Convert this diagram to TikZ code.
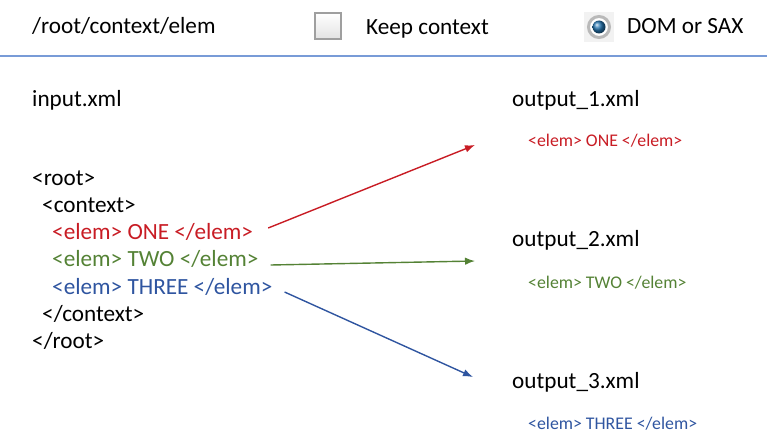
\documentclass[tikz,border=0pt]{standalone}
\usepackage{fontspec}
\setmainfont{Carlito}
\usetikzlibrary{arrows.meta,positioning}
\definecolor{elemred}{RGB}{200,28,36}
\definecolor{elemgreen}{RGB}{84,130,53}
\definecolor{elemblue}{RGB}{47,85,160}
\definecolor{rulecol}{RGB}{120,155,215}

\begin{document}
\begin{tikzpicture}[
    x=1pt, y=-1pt,
    >={Latex[length=10pt,width=7.5pt]},
    txt/.style={anchor=west,inner sep=0pt,font=\fontsize{23.2}{28}\selectfont},
    small/.style={anchor=west,inner sep=0pt,font=\fontsize{17.8}{21}\selectfont},
    link/.style={->,line width=1.4pt}
]
\useasboundingbox (0,0) rectangle (767,433);

% toolbar
\node[txt] (P) at (32,26) {/root/context/elem};
\node[draw=gray!75,line width=1.2pt,top color=white,bottom color=gray!22,minimum size=26pt,inner sep=0pt] (C) at (328,26) {};
\node[txt] (K) at (366,28.5) {Keep context};
\fill[gray!10] (584,12) rectangle (614,42);
\draw[gray!55,line width=3pt,fill=white] (599,27) circle (10.5);
\shade[ball color=elemblue!80!cyan] (599,27) circle (6.5);
\node[txt] (D) at (627,26) {DOM or SAX};
\draw[rulecol,line width=1.3pt] (0,56) -- (767,56);

% input
\node[txt] (I) at (32,100) {input.xml};
\node[txt] (r0) at (32,178) {<root>};
\node[txt] (c0) at (42,205) {<context>};
\node[txt,elemred] (E1) at (52,232) {<elem> ONE </elem>};
\node[txt,elemgreen] (E2) at (52,259) {<elem> TWO </elem>};
\node[txt,elemblue] (E3) at (52,287) {<elem> THREE </elem>};
\node[txt] (c1) at (42,314) {</context>};
\node[txt] (r1) at (32,341) {</root>};

% outputs
\node[txt] (O1) at (512,100) {output\_1.xml};
\node[small,elemred] (S1) at (528,141) {<elem> ONE </elem>};
\node[txt] (O2) at (512,240) {output\_2.xml};
\node[small,elemgreen] (S2) at (528,283) {<elem> TWO </elem>};
\node[txt] (O3) at (512,382) {output\_3.xml};
\node[small,elemblue] (S3) at (528,424) {<elem> THREE </elem>};

\coordinate (t1) at (475,145);
\coordinate (t2) at (475,261);
\coordinate (t3) at (473,377);

\draw[link,elemred] ([xshift=15pt,yshift=4pt]E1.east) -- (t1);
\draw[link,elemgreen] ([xshift=12pt,yshift=-6pt]E2.east) -- (t2);
\draw[link,elemblue] ([xshift=12pt,yshift=-5pt]E3.east) -- (t3);
\end{tikzpicture}
\end{document}
